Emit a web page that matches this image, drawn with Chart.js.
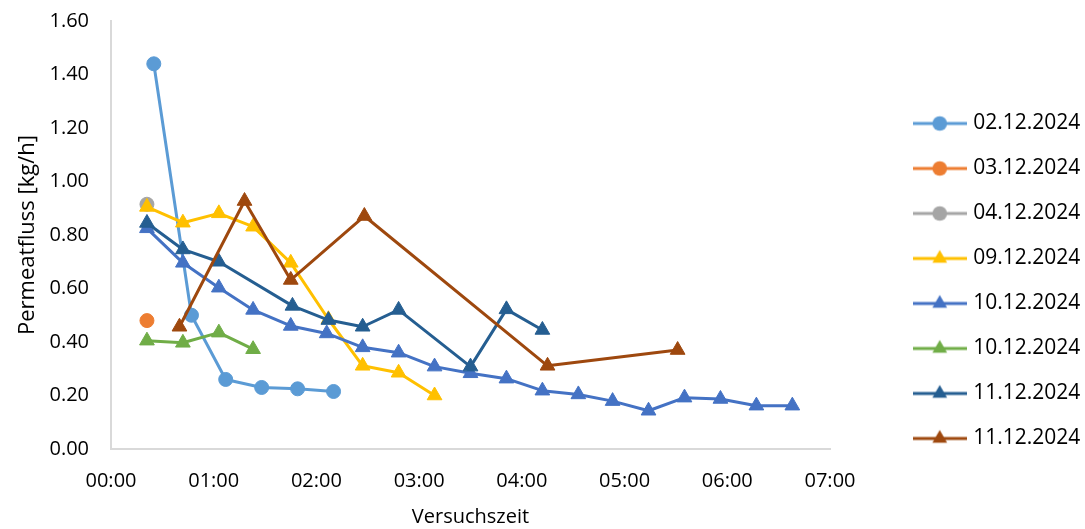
<!DOCTYPE html>
<html>
<head>
<meta charset="utf-8">
<script src="https://cdn.jsdelivr.net/npm/chart.js@4.4.1/dist/chart.umd.min.js"></script>
<style>
  html, body { margin: 0; padding: 0; background: #fff; }
</style>
</head>
<body>
<canvas id="chart" width="1085" height="529"></canvas>
<script>
// test runs, time since start (hh:mm) and permeate flux (kg/h)
const labels = ["02.12.2024", "03.12.2024", "04.12.2024", "09.12.2024",
                "10.12.2024", "10.12.2024", "11.12.2024", "11.12.2024"];

const time0212 = ["00:25", "00:47", "01:07", "01:28", "01:49", "02:10"];
const flux0212 = [1.44, 0.50, 0.26, 0.23, 0.225, 0.215];

const time0312 = ["00:21"];
const flux0312 = [0.48];

const time0412 = ["00:21"];
const flux0412 = [0.915];

const time0912 = ["00:21", "00:42", "01:03", "01:23", "01:45", "02:07", "02:27", "02:48", "03:09"];
const flux0912 = [0.905, 0.846, 0.881, 0.831, 0.696, 0.485, 0.311, 0.285, 0.20];

const time1012a = ["00:21", "00:42", "01:03", "01:23", "01:45", "02:06", "02:27", "02:48", "03:09", "03:30",
                   "03:51", "04:12", "04:33", "04:53", "05:14", "05:35", "05:56", "06:17", "06:38"];
const flux1012a = [0.825, 0.696, 0.603, 0.52, 0.46, 0.432, 0.38, 0.36, 0.308, 0.283,
                   0.263, 0.218, 0.204, 0.179, 0.143, 0.192, 0.187, 0.162, 0.162];

const time1012b = ["00:21", "00:42", "01:03", "01:23"];
const flux1012b = [0.405, 0.397, 0.435, 0.373];

const time1112a = ["00:21", "00:42", "01:03", "01:46", "02:07", "02:27", "02:48", "03:30", "03:51", "04:12"];
const flux1112a = [0.845, 0.746, 0.70, 0.535, 0.482, 0.457, 0.52, 0.308, 0.522, 0.445];

const time1112b = ["00:40", "01:18", "01:45", "02:28", "04:15", "05:31"];
const flux1112b = [0.457, 0.927, 0.632, 0.871, 0.311, 0.37];

const xTicks = [0, 1, 2, 3, 4, 5, 6, 7];          // hours
const yTicks = [0, 0.2, 0.4, 0.6, 0.8, 1.0, 1.2, 1.4, 1.6];

const colors = ["#5B9BD5", "#ED7D31", "#A5A5A5", "#FFC000", "#4472C4", "#70AD47", "#255E91", "#9E480E"];
const markers = ["circle", "circle", "circle", "triangle", "triangle", "triangle", "triangle", "triangle"];

function toHours(t) {
    const [h, m] = t.split(":").map(Number);
    return h + m / 60;
}

function points(times, vals) {
    return times.map((t, i) => ({ x: toHours(t), y: vals[i] }));
}

const series = [
    points(time0212, flux0212), points(time0312, flux0312), points(time0412, flux0412),
    points(time0912, flux0912), points(time1012a, flux1012a), points(time1012b, flux1012b),
    points(time1112a, flux1112a), points(time1112b, flux1112b)
];

// little line+marker icon for the legend, like the excel one
function legendIcon(color, marker) {
    const c = document.createElement("canvas");
    c.width = 54; c.height = 20;
    const g = c.getContext("2d");
    g.strokeStyle = color; g.fillStyle = color;
    g.lineWidth = 3;
    g.beginPath(); g.moveTo(0, 10); g.lineTo(54, 10); g.stroke();
    g.beginPath();
    if (marker === "circle") {
        g.arc(27, 10, 7.3, 0, Math.PI * 2);
    } else {
        const r = 8.5;
        g.moveTo(27, 10 - r);
        g.lineTo(27 + r * 0.866, 10 + r / 2);
        g.lineTo(27 - r * 0.866, 10 + r / 2);
        g.closePath();
    }
    g.fill();
    return c;
}

const datasets = series.map((data, i) => ({
    label: labels[i],
    data: data,
    borderColor: colors[i],
    backgroundColor: colors[i],
    pointBackgroundColor: colors[i],
    pointBorderColor: colors[i],
    borderWidth: 3,
    borderJoinStyle: "round",
    borderCapStyle: "round",
    pointStyle: markers[i],
    pointRadius: markers[i] === "circle" ? 7 : 8.5,
    pointBorderWidth: 1,
    tension: 0,
    order: series.length - i,   // later series on top, like excel
    icon: legendIcon(colors[i], markers[i])
}));

// put the legend where excel has it
const legendPlace = {
    id: "legendPlace",
    beforeLayout(chart) {
        const lg = chart.legend;
        if (lg && !lg._patched) {
            const fit = lg.fit;
            lg.fit = function () {
                fit.call(this);
                this.width = 255;
            };
            lg._patched = true;
        }
    },
    afterLayout(chart) {
        const lg = chart.legend;
        lg.left = 892.7; lg.right = 1085;
        lg.top = 89; lg.bottom = 529;
    }
};

Chart.defaults.font.family = "'Open Sans', 'Noto Sans', sans-serif";
Chart.defaults.color = "#000";

new Chart(document.getElementById("chart"), {
    type: "line",
    data: { datasets: datasets },
    options: {
        responsive: false,
        animation: false,
        layout: { padding: { top: 21, left: 0, right: 0, bottom: 0 } },
        scales: {
            x: {
                type: "linear",
                min: 0, max: 7,
                afterBuildTicks: s => { s.ticks = xTicks.map(v => ({ value: v })); },
                afterFit: s => { s.height = 80; },
                grid: { display: false, drawTicks: false },
                border: { display: true, color: "#d9d9d9", width: 2 },
                ticks: {
                    padding: 20,
                    font: { size: 20 },
                    maxRotation: 0,
                    callback: v => String(v).padStart(2, "0") + ":00"
                },
                title: { display: true, text: "Versuchszeit", font: { size: 20 }, padding: { top: 0, bottom: 0 } }
            },
            y: {
                min: 0, max: 1.6,
                afterBuildTicks: s => { s.ticks = yTicks.map(v => ({ value: v })); },
                afterFit: s => { s.width = 111; s.paddingTop = 0; s.paddingBottom = 0; },
                grid: { display: false, drawTicks: false },
                border: { display: true, color: "#d9d9d9", width: 2 },
                ticks: {
                    padding: 22,
                    font: { size: 20 },
                    callback: v => v.toFixed(2)
                },
                title: { display: true, text: "Permeatfluss [kg/h]", font: { size: 22 }, padding: { top: 15, bottom: 0 } }
            }
        },
        plugins: {
            tooltip: { enabled: false },
            legend: {
                position: "right",
                align: "start",
                labels: {
                    usePointStyle: true,
                    pointStyleWidth: 46,
                    padding: 24,
                    font: { size: 21 },
                    color: "#000",
                    generateLabels: chart => chart.data.datasets.map((ds, i) => ({
                        text: ds.label,
                        pointStyle: ds.icon,
                        fillStyle: ds.borderColor,
                        strokeStyle: ds.borderColor,
                        lineWidth: 0,
                        hidden: !chart.isDatasetVisible(i),
                        datasetIndex: i
                    }))
                }
            }
        }
    },
    plugins: [legendPlace]
});
</script>
</body>
</html>
